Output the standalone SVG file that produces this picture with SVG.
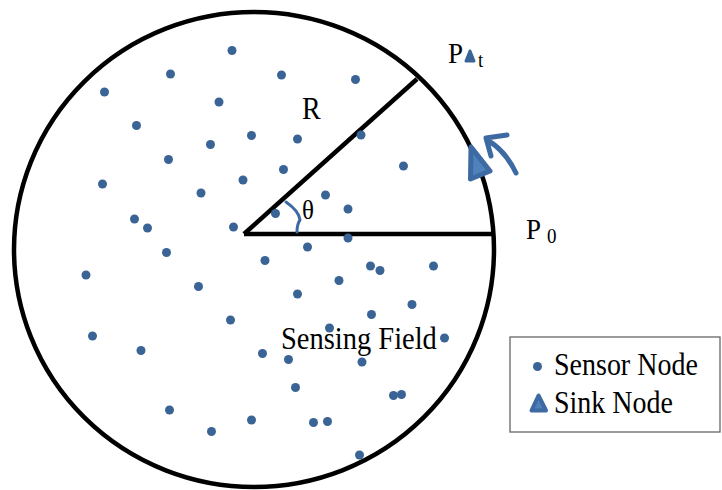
<svg xmlns="http://www.w3.org/2000/svg" width="722" height="490" viewBox="0 0 722 490">
<style>
.dot{fill:#3b6496}
.txt{font-family:"Liberation Serif","Times New Roman",serif;fill:#000}
.blk{stroke:#000;stroke-width:4.5;fill:none}
.blue{stroke:#3d6aa3;fill:none;stroke-linecap:round;stroke-linejoin:round}
</style>
<rect width="722" height="490" fill="#fff"/>
<g id="field">
<ellipse class="blk" cx="254" cy="249.5" rx="240" ry="237.5"/>
</g>
<g id="connectors">
<line class="blk" x1="244" y1="234" x2="494" y2="234"/>
<line class="blk" x1="244" y1="234" x2="417" y2="79"/>
<path class="blue" stroke-width="3" d="M286,202 Q299,211 300,220 Q297,224 297,232"/>
<path class="blue" stroke-width="5" d="M487,140 Q505,150 516,173 M486,138 L507,135 M486,138 L491,156"/>
</g>
<g id="sensors">
<circle class="dot" cx="232" cy="50.5" r="4.5"/>
<circle class="dot" cx="170.5" cy="74" r="4.5"/>
<circle class="dot" cx="281.5" cy="75" r="4.5"/>
<circle class="dot" cx="355.5" cy="79.5" r="4.5"/>
<circle class="dot" cx="104.5" cy="92" r="4.5"/>
<circle class="dot" cx="219" cy="102" r="4.5"/>
<circle class="dot" cx="136.5" cy="125.5" r="4.5"/>
<circle class="dot" cx="251.5" cy="135.5" r="4.5"/>
<circle class="dot" cx="297.5" cy="139" r="4.5"/>
<circle class="dot" cx="361" cy="135" r="4.5"/>
<circle class="dot" cx="210.5" cy="144.5" r="4.5"/>
<circle class="dot" cx="168.5" cy="159.5" r="4.5"/>
<circle class="dot" cx="283.5" cy="169.5" r="4.5"/>
<circle class="dot" cx="403.5" cy="166" r="4.5"/>
<circle class="dot" cx="102.5" cy="184" r="4.5"/>
<circle class="dot" cx="243" cy="180" r="4.5"/>
<circle class="dot" cx="201" cy="193" r="4.5"/>
<circle class="dot" cx="325.5" cy="195" r="4.5"/>
<circle class="dot" cx="134.5" cy="219" r="4.5"/>
<circle class="dot" cx="147.5" cy="228" r="4.5"/>
<circle class="dot" cx="233.5" cy="227" r="4.5"/>
<circle class="dot" cx="275.5" cy="213.5" r="4.5"/>
<circle class="dot" cx="348" cy="209" r="4.5"/>
<circle class="dot" cx="348" cy="238" r="4.5"/>
<circle class="dot" cx="307.5" cy="247" r="4.5"/>
<circle class="dot" cx="166.5" cy="252.5" r="4.5"/>
<circle class="dot" cx="265" cy="260.5" r="4.5"/>
<circle class="dot" cx="370.5" cy="266" r="4.5"/>
<circle class="dot" cx="380" cy="270.5" r="4.5"/>
<circle class="dot" cx="433.5" cy="266" r="4.5"/>
<circle class="dot" cx="86" cy="275" r="4.5"/>
<circle class="dot" cx="198.5" cy="286.5" r="4.5"/>
<circle class="dot" cx="339" cy="280.5" r="4.5"/>
<circle class="dot" cx="297.5" cy="294" r="4.5"/>
<circle class="dot" cx="412" cy="304.5" r="4.5"/>
<circle class="dot" cx="371.5" cy="314.5" r="4.5"/>
<circle class="dot" cx="230.5" cy="320" r="4.5"/>
<circle class="dot" cx="329.5" cy="328" r="4.5"/>
<circle class="dot" cx="444.5" cy="338" r="4.5"/>
<circle class="dot" cx="92.5" cy="336" r="4.5"/>
<circle class="dot" cx="141" cy="350.5" r="4.5"/>
<circle class="dot" cx="262.5" cy="353.5" r="4.5"/>
<circle class="dot" cx="288.5" cy="359.5" r="4.5"/>
<circle class="dot" cx="362" cy="362" r="4.5"/>
<circle class="dot" cx="295.5" cy="387.5" r="4.5"/>
<circle class="dot" cx="393.5" cy="395.5" r="4.5"/>
<circle class="dot" cx="401.5" cy="394.5" r="4.5"/>
<circle class="dot" cx="169.5" cy="410" r="4.5"/>
<circle class="dot" cx="251.5" cy="420" r="4.5"/>
<circle class="dot" cx="313.5" cy="422.5" r="4.5"/>
<circle class="dot" cx="327.5" cy="421.5" r="4.5"/>
<circle class="dot" cx="211.5" cy="431.5" r="4.5"/>
<circle class="dot" cx="359.5" cy="455" r="4.5"/>
</g>
<g id="sink">
<polygon points="471,147 470.5,179 490,171" fill="#4f81bd" stroke="#3d6aa3" stroke-width="5" stroke-linejoin="round"/>
</g>
<g id="labels">
<text class="txt" font-size="28" transform="translate(302,119) scale(1,1.1)">R</text>
<text class="txt" font-size="25" transform="translate(302,219) scale(1,1.1)">θ</text>
<text class="txt" font-size="28.5" transform="translate(281,349) scale(1,1.1)">Sensing Field</text>
<text class="txt" font-size="27" transform="translate(526,239) scale(1,1.1)">P</text>
<text class="txt" font-size="19" transform="translate(547,243) scale(1,1.1)">0</text>
<text class="txt" font-size="27" transform="translate(448,63) scale(1,1.1)">P</text>
<polygon points="466,61 474,61 470,51" fill="#3b6496" stroke="#3b6496" stroke-width="3" stroke-linejoin="round"/>
<text class="txt" font-size="19" transform="translate(478,67) scale(1,1.1)">t</text>
</g>
<g id="legend">
<rect x="510" y="337" width="210" height="95" fill="#fff" stroke="#666" stroke-width="1.3"/>
<circle class="dot" cx="537.5" cy="366.5" r="4.5"/>
<text class="txt" font-size="28" transform="translate(554,375) scale(1,1.1)">Sensor Node</text>
<polygon points="531.5,410.5 546,410.5 538.5,395.5" fill="#4f81bd" stroke="#3d6aa3" stroke-width="4" stroke-linejoin="round"/>
<text class="txt" font-size="28" transform="translate(554,413) scale(1,1.1)">Sink Node</text>
</g>
</svg>
